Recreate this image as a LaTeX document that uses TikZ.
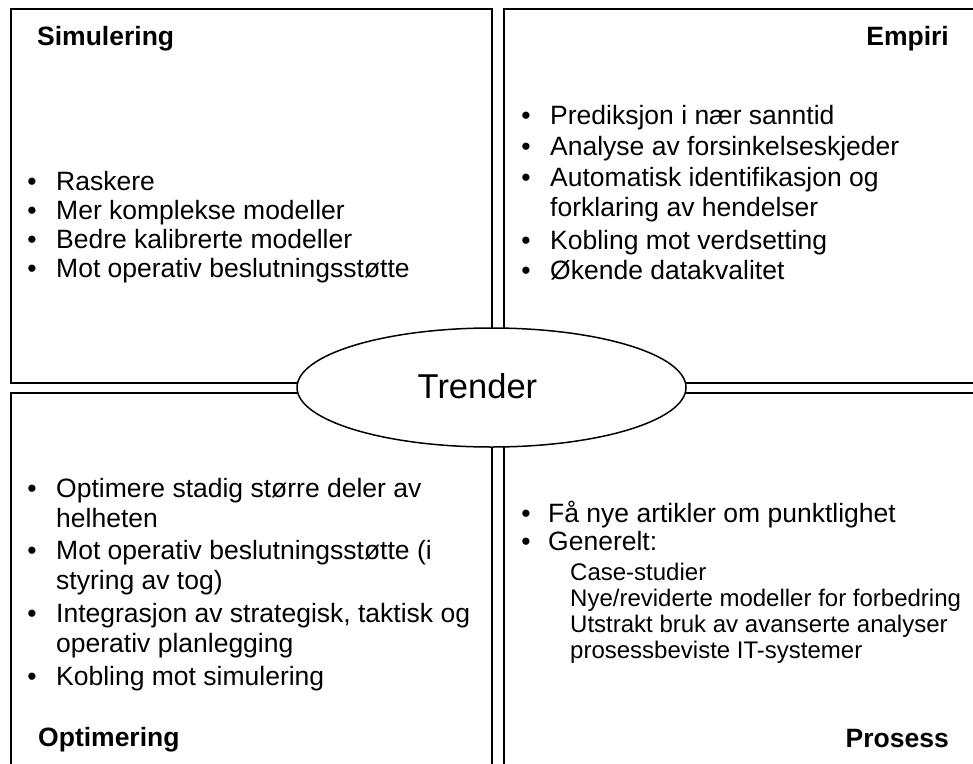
\documentclass[tikz,border=0pt]{standalone}
\usepackage{fontspec}
\setmainfont{Liberation Sans}
\usetikzlibrary{shapes.geometric}
\begin{document}
\begin{tikzpicture}[x=1pt,y=-1pt,
  frame/.style={line width=2pt, line join=miter},
  heading/.style={font=\bfseries\fontsize{26.5}{30}\selectfont, inner sep=0pt},
  item/.style={font=\fontsize{26.5}{30}\selectfont, inner sep=0pt, anchor=base west},
  subitem/.style={font=\fontsize{24}{28}\selectfont, inner sep=0pt, anchor=base west},
  bul/.style={font=\fontsize{26.5}{30}\selectfont, inner sep=0pt, anchor=base},
  hub/.style={ellipse, draw, fill=white, line width=1.5pt,
    minimum width=389pt, minimum height=119pt, inner sep=0pt}
]
\useasboundingbox (0,0) rectangle (973,763);

% four quadrant frames (right and bottom ones run off the page)
\draw[frame] (11,9) rectangle (492,383.3);
\draw[frame] (980,9) -- (504,9) -- (504,383.3) -- (980,383.3);
\draw[frame] (11,775) -- (11,393.3) -- (492,393.3) -- (492,775);
\draw[frame] (980,393.3) -- (504,393.3) -- (504,775);

% headings
\node[heading, anchor=base west] (hsim) at (37,45) {Simulering};
\node[heading, anchor=base east] (hemp) at (949,45) {Empiri};
\node[heading, anchor=base west] (hopt) at (38,746) {Optimering};
\node[heading, anchor=base east] (hpro) at (949,747) {Prosess};

% Simulering
\node[bul] (s1b) at (32,190) {•};
\node[item] (s1) at (56,190) {Raskere};
\node[bul] (s2b) at (32,219) {•};
\node[item] (s2) at (56,219) {Mer komplekse modeller};
\node[bul] (s3b) at (32,248) {•};
\node[item] (s3) at (56,248) {Bedre kalibrerte modeller};
\node[bul] (s4b) at (32,277) {•};
\node[item] (s4) at (56,277) {Mot operativ beslutningsstøtte};

% Empiri
\node[bul] (e1b) at (526,124.3) {•};
\node[item] (e1) at (550,124.3) {Prediksjon i nær sanntid};
\node[bul] (e2b) at (526,155.5) {•};
\node[item] (e2) at (550,155.5) {Analyse av forsinkelseskjeder};
\node[bul] (e3b) at (526,186) {•};
\node[item] (e3) at (550,186) {Automatisk identifikasjon og};
\node[item] (e3c) at (550,216.5) {forklaring av hendelser};
\node[bul] (e4b) at (526,249) {•};
\node[item] (e4) at (550,249) {Kobling mot verdsetting};
\node[bul] (e5b) at (526,279.5) {•};
\node[item] (e5) at (550,279.5) {Økende datakvalitet};

% Optimering
\node[bul] (o1b) at (32,497) {•};
\node[item] (o1) at (56,497) {Optimere stadig større deler av};
\node[item] (o1c) at (56,527) {helheten};
\node[bul] (o2b) at (32,559) {•};
\node[item] (o2) at (56,559) {Mot operativ beslutningsstøtte (i};
\node[item] (o2c) at (56,589) {styring av tog)};
\node[bul] (o3b) at (32,622) {•};
\node[item] (o3) at (56,622) {Integrasjon av strategisk, taktisk og};
\node[item] (o3c) at (56,652) {operativ planlegging};
\node[bul] (o4b) at (32,685) {•};
\node[item] (o4) at (56,685) {Kobling mot simulering};

% Prosess
\node[bul] (p1b) at (526,522) {•};
\node[item] (p1) at (548,522) {Få nye artikler om punktlighet};
\node[bul] (p2b) at (526,550) {•};
\node[item] (p2) at (548,550) {Generelt:};
\node[subitem] (p3) at (570,580) {Case-studier};
\node[subitem] (p4) at (570,606) {Nye/reviderte modeller for forbedring};
\node[subitem] (p5) at (570,632) {Utstrakt bruk av avanserte analyser};
\node[subitem] (p6) at (570,658) {prosessbeviste IT-systemer};

% central ellipse
\node[hub] (trend) at (491.5,387.5) {};
\node[font=\fontsize{34.5}{40}\selectfont, inner sep=0pt, anchor=base west] (trendlbl) at (417.5,398) {Trender};
\end{tikzpicture}
\end{document}
